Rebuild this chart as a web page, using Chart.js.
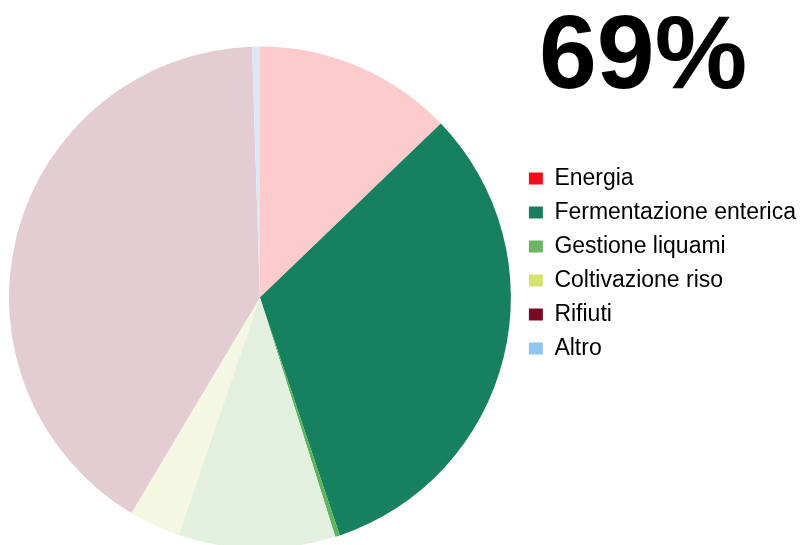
<!DOCTYPE html>
<html lang="it">
<head>
<meta charset="utf-8">
<title>Emissioni di metano per settore</title>
<script src="https://cdn.jsdelivr.net/npm/chart.js@4/dist/chart.umd.min.js"></script>
<style>
  html, body { margin: 0; padding: 0; background: #fff; overflow: hidden; }
  .wrap { position: relative; width: 804px; height: 545px; overflow: hidden; }
  #pieChart { position: absolute; left: 0; top: 0; }
  .big-pct {
    position: absolute; left: 539px; top: 0;
    font-family: "Liberation Sans", Arial, sans-serif;
    font-weight: bold; font-size: 104px; line-height: 1; color: #000;
  }
</style>
</head>
<body>
<div class="wrap">
  <canvas id="pieChart" width="804" height="552"></canvas>
  <div class="big-pct">69%</div>
</div>
<script>
// Voci della legenda
const categories = ['Energia', 'Fermentazione enterica', 'Gestione liquami', 'Coltivazione riso', 'Rifiuti', 'Altro'];
const legendColors = ['#ef0f19', '#1a7e5e', '#6cb562', '#d4e46c', '#7a0a22', '#8ec8f2'];

// Spicchi della torta (%), in senso orario dall'alto
const sliceLabels = ['Energia', 'Fermentazione enterica', 'Gestione liquami', 'Gestione liquami', 'Coltivazione riso', 'Rifiuti', 'Altro'];
const sliceValues = [12.8, 32.0, 0.3, 10.1, 3.3, 40.9, 0.5];
const sliceColors = ['#fdcbcb', '#16805f', '#5db45a', '#e3f0df', '#f4f7e1', '#e3cdd3', '#dde7f4'];

// sposta la legenda accanto alla metà alta della torta
const legendNudge = {
  id: 'legendNudge',
  afterLayout(chart, args, opts) {
    const lg = chart.legend;
    if (!lg) return;
    lg.left += opts.dx; lg.right += opts.dx;
    lg.top += opts.dy; lg.bottom += opts.dy;
  }
};

const ctx = document.getElementById('pieChart').getContext('2d');

new Chart(ctx, {
  type: 'pie',
  data: {
    labels: sliceLabels,
    datasets: [{
      data: sliceValues,
      backgroundColor: sliceColors,
      borderWidth: 0,
      hoverOffset: 0
    }]
  },
  options: {
    responsive: false,
    animation: false,
    layout: { padding: { top: 46, left: 9, bottom: 3, right: 5 } },
    plugins: {
      tooltip: { enabled: false },
      legendNudge: { dx: 7, dy: -34 },
      legend: {
        position: 'right',
        labels: {
          boxWidth: 14,
          boxHeight: 12,
          padding: 11,
          color: '#2a2a2a',
          font: { family: '"Liberation Sans", Arial, sans-serif', size: 23 },
          generateLabels: () => categories.map((name, i) => ({
            text: name,
            fillStyle: legendColors[i],
            strokeStyle: legendColors[i],
            lineWidth: 0,
            hidden: false,
            index: i
          }))
        }
      }
    }
  },
  plugins: [legendNudge]
});
</script>
</body>
</html>
